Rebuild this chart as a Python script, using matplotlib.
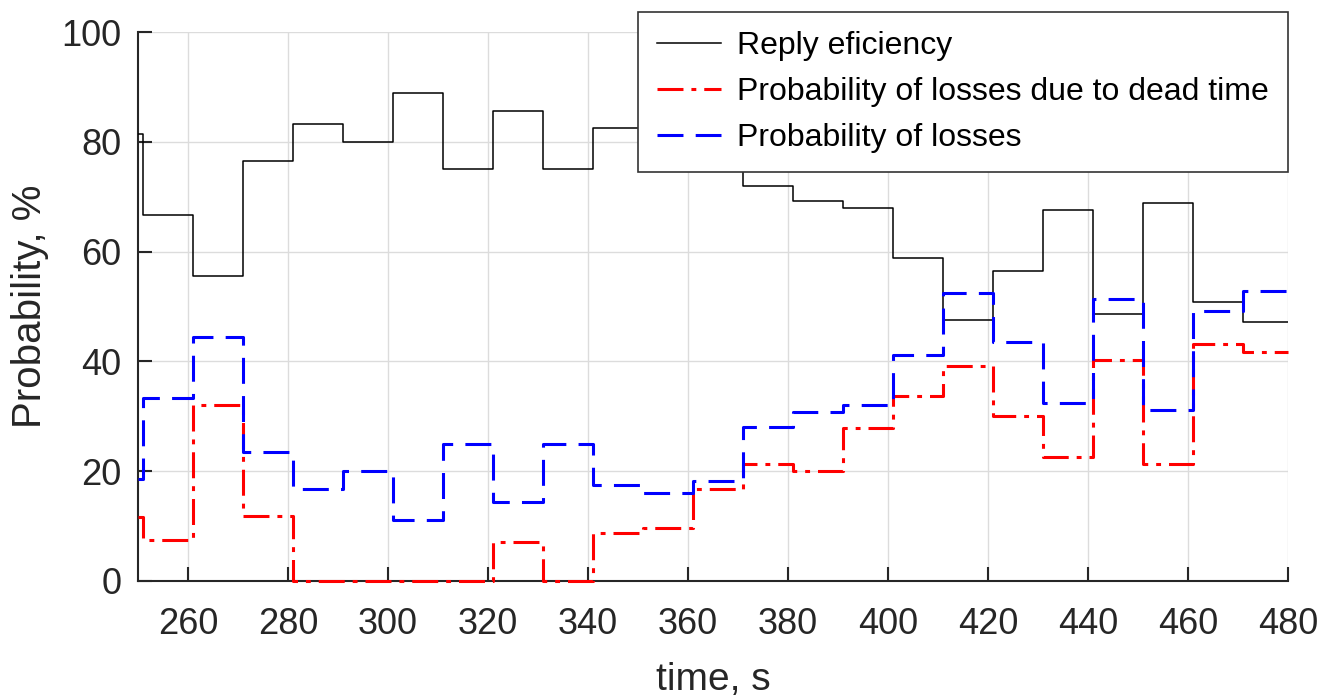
import numpy as np
import matplotlib
matplotlib.use("Agg")
import matplotlib.pyplot as plt

# ================================ DATA ================================
# start time of each interval (s); the last interval ends at T_END
t_start = [250, 251, 261, 271, 281, 291, 301, 311, 321, 331, 341, 351,
           361, 371, 381, 391, 401, 411, 421, 431, 441, 451, 461, 471]
T_END = 480

reply_eff = [81.5, 66.7, 55.6, 76.5, 83.3, 80.0, 88.9, 75.0, 85.7, 75.0, 82.6, 83.9,
             81.8, 72.0, 69.2, 67.9, 58.8, 47.6, 56.5, 67.6, 48.6, 68.8, 50.8, 47.2]
loss_dead = [11.7, 7.4, 32.0, 11.8, 0.0, 0.0, 0.0, 0.0, 7.1, 0.0, 8.7, 9.7,
             16.7, 21.3, 20.0, 27.8, 33.7, 39.2, 30.0, 22.5, 40.3, 21.3, 43.2, 41.8]
loss_all = [18.5, 33.3, 44.4, 23.5, 16.7, 20.0, 11.1, 25.0, 14.3, 25.0, 17.4, 16.1,
            18.2, 28.0, 30.8, 32.1, 41.2, 52.4, 43.5, 32.4, 51.4, 31.2, 49.2, 52.8]

labels = ["Reply eficiency",
          "Probability of losses due to dead time",
          "Probability of losses"]

x_ticks = [260, 280, 300, 320, 340, 360, 380, 400, 420, 440, 460, 480]
y_ticks = [0, 20, 40, 60, 80, 100]

# ================================ PLOT ================================
plt.rcParams['font.family'] = ['Liberation Sans', 'DejaVu Sans']
AX_COLOR = '#262626'

fig = plt.figure(figsize=(13.18, 6.99), dpi=100)
ax = fig.add_axes([138 / 1318, 1 - 581 / 699, 1150 / 1318, 549 / 699])


def stairs(values):
    x = np.append(t_start, T_END)
    y = np.append(values, values[-1])
    return x, y


x, y = stairs(reply_eff)
ax.step(x, y, where='post', color='black', linewidth=1.1, label=labels[0], zorder=3)
x, y = stairs(loss_dead)
ax.step(x, y, where='post', color='red', linewidth=2.2, label=labels[1], zorder=3,
        dashes=(8.5, 2.6, 1.6, 2.6), clip_on=False)
x, y = stairs(loss_all)
ax.step(x, y, where='post', color='blue', linewidth=2.2, label=labels[2], zorder=4,
        dashes=(8.5, 4), clip_on=False)

ax.set_xlim(250, 480)
ax.set_ylim(0, 100)
ax.set_xticks(x_ticks)
ax.set_yticks(y_ticks)

ax.grid(True, color='#dcdcdc', linewidth=1.0)
ax.set_axisbelow(True)
for side in ['top', 'right']:
    ax.spines[side].set_visible(False)
for side in ['left', 'bottom']:
    ax.spines[side].set_color(AX_COLOR)
    ax.spines[side].set_linewidth(1.5)

ax.tick_params(direction='in', length=10, width=1.5, colors=AX_COLOR, labelsize=26)
ax.tick_params(axis='x', pad=19)
ax.tick_params(axis='y', pad=12)
ax.set_xlabel('time, s', fontsize=28, color=AX_COLOR, labelpad=14)
ax.set_ylabel('Probability, %', fontsize=29, color=AX_COLOR, labelpad=9)

leg = ax.legend(loc='upper right', bbox_to_anchor=(1288 / 1318, 1 - 12 / 699),
                bbox_transform=fig.transFigure, borderaxespad=0, fontsize=23,
                fancybox=False, framealpha=1, edgecolor='#333333',
                handlelength=2.0, handletextpad=0.5, labelspacing=0.5,
                borderpad=0.6)
leg.get_frame().set_linewidth(1.2)
leg.set_zorder(10)

fig.savefig('out.png', dpi=100)
